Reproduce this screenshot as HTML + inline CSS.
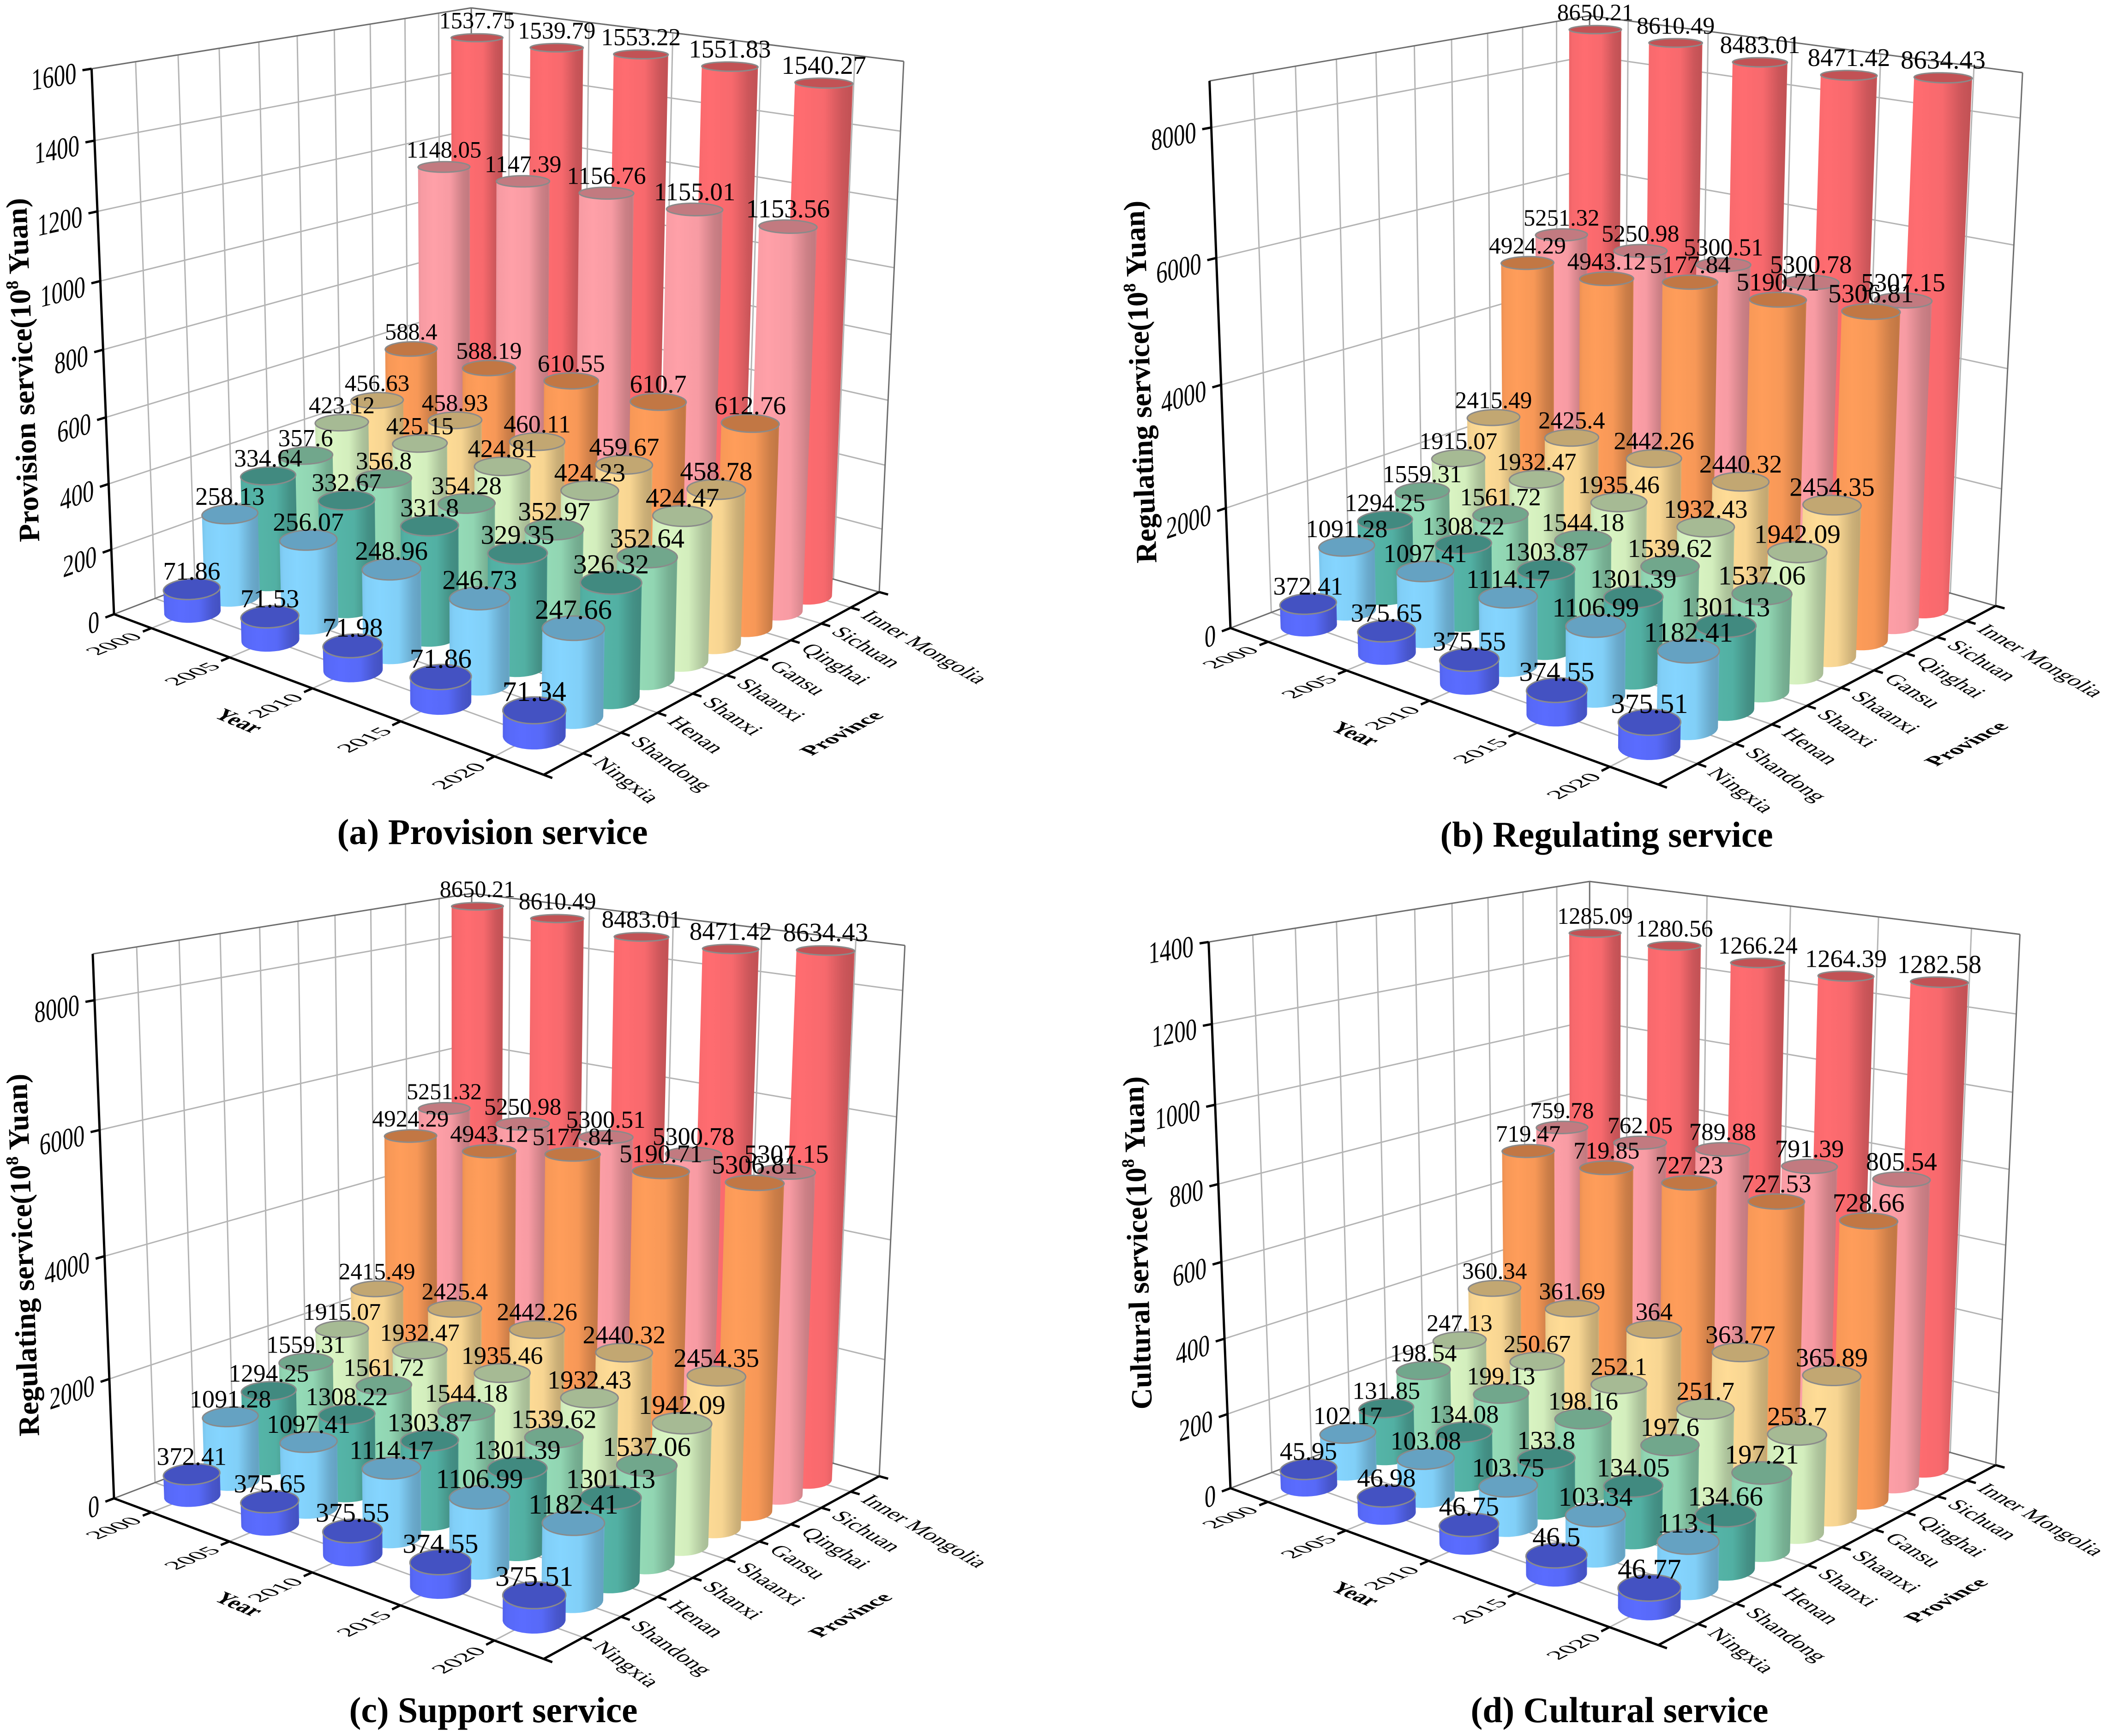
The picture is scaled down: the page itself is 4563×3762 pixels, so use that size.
<!DOCTYPE html>
<html lang="en">
<head>
<meta charset="utf-8">
<title>Ecosystem services by province and year</title>
<style>
html,body{margin:0;padding:0;background:#fff}
svg{display:block;position:absolute;left:0;top:0}
text{font-family:"Liberation Serif","Times New Roman",serif;fill:#000}
.title{font-weight:bold;font-size:78px;text-anchor:middle}
.ztitle{font-weight:bold;font-size:64px;text-anchor:middle}
.axt{font-weight:bold;font-size:48px;text-anchor:middle}
</style>
</head>
<body>
<svg id="figure" xmlns="http://www.w3.org/2000/svg" width="4563" height="3762" viewBox="0 0 4563 3762">
  <defs id="gradients"></defs>
  <rect x="0" y="0" width="4563" height="3762" fill="#fff"/>
  <g id="panel-a"></g>
  <g id="panel-b"></g>
  <g id="panel-c"></g>
  <g id="panel-d"></g>

  <text class="title" x="1067" y="1829" textLength="673" lengthAdjust="spacingAndGlyphs">(a) Provision service</text>
  <text class="title" x="3481" y="1835" textLength="721" lengthAdjust="spacingAndGlyphs">(b) Regulating service</text>
  <text class="title" x="1069" y="3732" textLength="625" lengthAdjust="spacingAndGlyphs">(c) Support service</text>
  <text class="title" x="3509" y="3732" textLength="645" lengthAdjust="spacingAndGlyphs">(d) Cultural service</text>

  <text class="ztitle" transform="translate(71,801) rotate(-92.2)">Provision service(10<tspan font-size="38" dy="-25">8</tspan><tspan dy="25"> Yuan)</tspan></text>
  <text class="ztitle" transform="translate(2492,827) rotate(-92)">Regulating service(10<tspan font-size="38" dy="-25">8</tspan><tspan dy="25"> Yuan)</tspan></text>
  <text class="ztitle" transform="translate(71,2719) rotate(-92)">Regulating service(10<tspan font-size="38" dy="-25">8</tspan><tspan dy="25"> Yuan)</tspan></text>
  <text class="ztitle" transform="translate(2486,2693) rotate(-91.5)">Cultural service(10<tspan font-size="38" dy="-25">8</tspan><tspan dy="25"> Yuan)</tspan></text>

  <text class="axt" transform="matrix(.92 .39 -.8 .6 505 1572)">Year</text>
  <text class="axt" transform="matrix(.92 .39 -.8 .6 2924 1600)">Year</text>
  <text class="axt" transform="matrix(.92 .39 -.8 .6 505 3486)">Year</text>
  <text class="axt" transform="matrix(.92 .39 -.8 .6 2924 3464)">Year</text>

  <text class="axt" transform="matrix(.88 -.48 .92 .39 1838 1595)">Province</text>
  <text class="axt" transform="matrix(.88 -.48 .92 .39 4275 1618)">Province</text>
  <text class="axt" transform="matrix(.88 -.48 .92 .39 1857 3506)">Province</text>
  <text class="axt" transform="matrix(.88 -.48 .92 .39 4231 3474)">Province</text>
</svg>
<script>
const years = ["2000", "2005", "2010", "2015", "2020"];
const provinces = ["Ningxia", "Shandong", "Henan", "Shanxi", "Shaanxi", "Gansu", "Qinghai", "Sichuan", "Inner Mongolia"];

const provisionService = [
  [71.86, 71.53, 71.98, 71.86, 71.34],
  [258.13, 256.07, 248.96, 246.73, 247.66],
  [334.64, 332.67, 331.8, 329.35, 326.32],
  [357.6, 356.8, 354.28, 352.97, 352.64],
  [423.12, 425.15, 424.81, 424.23, 424.47],
  [456.63, 458.93, 460.11, 459.67, 458.78],
  [588.4, 588.19, 610.55, 610.7, 612.76],
  [1148.05, 1147.39, 1156.76, 1155.01, 1153.56],
  [1537.75, 1539.79, 1553.22, 1551.83, 1540.27]
];
const regulatingService = [
  [372.41, 375.65, 375.55, 374.55, 375.51],
  [1091.28, 1097.41, 1114.17, 1106.99, 1182.41],
  [1294.25, 1308.22, 1303.87, 1301.39, 1301.13],
  [1559.31, 1561.72, 1544.18, 1539.62, 1537.06],
  [1915.07, 1932.47, 1935.46, 1932.43, 1942.09],
  [2415.49, 2425.4, 2442.26, 2440.32, 2454.35],
  [4924.29, 4943.12, 5177.84, 5190.71, 5306.81],
  [5251.32, 5250.98, 5300.51, 5300.78, 5307.15],
  [8650.21, 8610.49, 8483.01, 8471.42, 8634.43]
];
const supportService = [
  [372.41, 375.65, 375.55, 374.55, 375.51],
  [1091.28, 1097.41, 1114.17, 1106.99, 1182.41],
  [1294.25, 1308.22, 1303.87, 1301.39, 1301.13],
  [1559.31, 1561.72, 1544.18, 1539.62, 1537.06],
  [1915.07, 1932.47, 1935.46, 1932.43, 1942.09],
  [2415.49, 2425.4, 2442.26, 2440.32, 2454.35],
  [4924.29, 4943.12, 5177.84, 5190.71, 5306.81],
  [5251.32, 5250.98, 5300.51, 5300.78, 5307.15],
  [8650.21, 8610.49, 8483.01, 8471.42, 8634.43]
];
const culturalService = [
  [45.95, 46.98, 46.75, 46.5, 46.77],
  [102.17, 103.08, 103.75, 103.34, 113.1],
  [131.85, 134.08, 133.8, 134.05, 134.66],
  [198.54, 199.13, 198.16, 197.6, 197.21],
  [247.13, 250.67, 252.1, 251.7, 253.7],
  [360.34, 361.69, 364, 363.77, 365.89],
  [719.47, 719.85, 727.23, 727.53, 728.66],
  [759.78, 762.05, 789.88, 791.39, 805.54],
  [1285.09, 1280.56, 1266.24, 1264.39, 1282.58]
];
const provisionTicks = [0, 200, 400, 600, 800, 1000, 1200, 1400, 1600];
const regulatingTicks = [0, 2000, 4000, 6000, 8000];
const supportTicks = [0, 2000, 4000, 6000, 8000];
const culturalTicks = [0, 200, 400, 600, 800, 1000, 1200, 1400];
const provisionMax = 1600;
const regulatingMax = 8700;
const supportMax = 8700;
const culturalMax = 1400;

const SVGNS = "http://www.w3.org/2000/svg";
const sideColors = ["#5a6cff", "#85d5ff", "#55b5a8", "#95dcb8", "#daf5c3", "#ffdc96", "#ff9d5a", "#ffa0a8", "#ff6c70"];

function shade(hex, k) {
  const n = parseInt(hex.slice(1), 16);
  const c = [(n >> 16) & 255, (n >> 8) & 255, n & 255].map(v => Math.round(v * k));
  return "rgb(" + c.join(",") + ")";
}
function mk(tag, parent) {
  const el = document.createElementNS(SVGNS, tag);
  parent.appendChild(el);
  return el;
}
function setAll(el, attrs) {
  for (const k in attrs) el.setAttribute(k, attrs[k]);
}
function meet(a, b, c, d) {
  const d1x = b[0] - a[0], d1y = b[1] - a[1], d2x = d[0] - c[0], d2y = d[1] - c[1];
  const t = ((c[0] - a[0]) * d2y - (c[1] - a[1]) * d2x) / (d1x * d2y - d1y * d2x);
  return [a[0] + t * d1x, a[1] + t * d1y];
}
function unit(a, b) {
  const dx = b[0] - a[0], dy = b[1] - a[1], l = Math.hypot(dx, dy);
  return [dx / l, dy / l];
}
function solve3(m, r) {
  const a = m.map((row, i) => row.concat(r[i]));
  for (let i = 0; i < 3; i++) {
    let p = i;
    for (let k = i + 1; k < 3; k++) if (Math.abs(a[k][i]) > Math.abs(a[p][i])) p = k;
    const t = a[i]; a[i] = a[p]; a[p] = t;
    for (let k = 0; k < 3; k++) {
      if (k === i) continue;
      const f = a[k][i] / a[i][i];
      for (let c = i; c < 4; c++) a[k][c] -= f * a[i][c];
    }
  }
  return [a[0][3] / a[0][0], a[1][3] / a[1][1], a[2][3] / a[2][2]];
}
// Builds a projective camera from the box corners.
function camera(g) {
  const O = g.O, A = g.A, B = g.B, Ot = g.Ot, Bt = g.Bt, Ct = g.Ct;
  const vpV = meet(Ot, Ct, A, B), vpU = meet(Ct, Bt, O, A);
  const C = meet(O, vpV, B, vpU);
  const dx1 = A[0] - B[0], dx2 = C[0] - B[0], sx = O[0] - A[0] + B[0] - C[0];
  const dy1 = A[1] - B[1], dy2 = C[1] - B[1], sy = O[1] - A[1] + B[1] - C[1];
  const den = dx1 * dy2 - dx2 * dy1;
  const gg = (sx * dy2 - dx2 * sy) / den, h = (dx1 * sy - sx * dy1) / den;
  const a = A[0] - O[0] + gg * A[0], b = C[0] - O[0] + h * C[0], c = O[0];
  const d = A[1] - O[1] + gg * A[1], e = C[1] - O[1] + h * C[1], f = O[1];
  const rows = [], rhs = [];
  [[Ot, 0, 0], [Ct, 0, 1], [Bt, 1, 1]].forEach(t => {
    const pt = t[0], u = t[1], v = t[2];
    const H1 = a * u + b * v + c, H2 = d * u + e * v + f, H3 = gg * u + h * v + 1;
    rows.push([1, 0, -pt[0]]); rhs.push(pt[0] * H3 - H1);
    rows.push([0, 1, -pt[1]]); rhs.push(pt[1] * H3 - H2);
  });
  const ata = [[0, 0, 0], [0, 0, 0], [0, 0, 0]], atb = [0, 0, 0];
  rows.forEach((r, i) => {
    for (let m = 0; m < 3; m++) {
      atb[m] += r[m] * rhs[i];
      for (let n = 0; n < 3; n++) ata[m][n] += r[m] * r[n];
    }
  });
  const s = solve3(ata, atb), p = s[0], q = s[1], r = s[2];
  return function (u, v, w) {
    const z = gg * u + h * v + 1 + r * w;
    return [(a * u + b * v + c + p * w) / z, (d * u + e * v + f + q * w) / z];
  };
}
function hull(pts) {
  const s = pts.slice().sort((a, b) => a[0] - b[0] || a[1] - b[1]);
  const cross = (o, a, b) => (a[0] - o[0]) * (b[1] - o[1]) - (a[1] - o[1]) * (b[0] - o[0]);
  const lo = [], up = [];
  s.forEach(p => {
    while (lo.length > 1 && cross(lo[lo.length - 2], lo[lo.length - 1], p) <= 0) lo.pop();
    lo.push(p);
  });
  s.slice().reverse().forEach(p => {
    while (up.length > 1 && cross(up[up.length - 2], up[up.length - 1], p) <= 0) up.pop();
    up.push(p);
  });
  return lo.slice(0, -1).concat(up.slice(0, -1));
}
function pathOf(pts) {
  return "M" + pts.map(p => p[0].toFixed(1) + " " + p[1].toFixed(1)).join("L") + "Z";
}
function line(parent, a, b, color, width) {
  const el = mk("line", parent);
  setAll(el, {x1: a[0].toFixed(1), y1: a[1].toFixed(1), x2: b[0].toFixed(1), y2: b[1].toFixed(1), stroke: color, "stroke-width": width});
  return el;
}

// Side gradients, one per province.
const defs = document.getElementById("gradients");
sideColors.forEach((col, j) => {
  const gr = mk("linearGradient", defs);
  setAll(gr, {id: "side" + j, x1: 0, y1: 0, x2: 1, y2: 0});
  [[0, .92], [.07, .97], [.3, 1], [.62, .97], [.86, .8], [.97, .76], [1, .82]].forEach(s => {
    const st = mk("stop", gr);
    setAll(st, {offset: s[0], "stop-color": shade(col, s[1])});
  });
});

function drawPanel(cfg) {
  const root = document.getElementById(cfg.id);
  const P = camera(cfg.box);
  const uOf = i => (i + .5) / years.length;
  const vOf = j => (j + 1) / (provinces.length + 1);
  const wOf = val => val / cfg.max;

  // Grid
  const grid = mk("g", root);
  
  
  const GC = "#b4b4b4", GW = 3;
  years.forEach((y, i) => {
    const u = uOf(i);
    line(grid, P(u, 0, 0), P(u, 1, 0), GC, GW);
    line(grid, P(u, 1, 0), P(u, 1, 1), GC, GW);
  });
  provinces.forEach((n, j) => {
    const v = vOf(j);
    line(grid, P(0, v, 0), P(1, v, 0), GC, GW);
    line(grid, P(0, v, 0), P(0, v, 1), GC, GW);
  });
  cfg.ticks.forEach(t => {
    const w = wOf(t);
    if (t === 0) return;
    line(grid, P(0, 0, w), P(0, 1, w), GC, GW);
    line(grid, P(0, 1, w), P(1, 1, w), GC, GW);
  });
  const BC = "#6e6e6e";
  [[0,0,1, 0,1,1], [0,1,1, 1,1,1], [1,1,1, 1,1,0], [0,1,1, 0,1,0], [0,1,0, 1,1,0], [0,0,0, 0,1,0]].forEach(s => {
    line(grid, P(s[0], s[1], s[2]), P(s[3], s[4], s[5]), BC, 3);
  });

  // Axes and ticks
  const axes = mk("g", root);
  
  
  line(axes, P(0, 0, 0), P(0, 0, 1), "#000", 5);
  line(axes, P(0, 0, 0), P(1, 0, 0), "#000", 5);
  line(axes, P(1, 0, 0), P(1, 1, 0), "#000", 5);

  const TL = 20;
  cfg.ticks.forEach(t => {
    const w = wOf(t), a = P(0, 0, w), dir = unit(a, P(0, 1, w));
    const end = [a[0] - dir[0] * TL, a[1] - dir[1] * TL];
    line(axes, a, end, "#000", 5);
    const xs = .74, slope = dir[1] / dir[0];
    const tx = end[0] - 13, ty = end[1] + 28;
    const lab = mk("text", axes);
    setAll(lab, {transform: "matrix(" + xs + " " + (slope * xs).toFixed(3) + " 0 1 " + tx.toFixed(1) + " " + ty.toFixed(1) + ")", "text-anchor": "end", "font-size": 66});
    
    
    lab.textContent = String(t);
  });
  years.forEach((y, i) => {
    const u = uOf(i), a = P(u, 0, 0), dir = unit(a, P(u, 1, 0));
    const yb = unit(P(Math.max(0, u - .05), 0, 0), P(Math.min(1, u + .05), 0, 0));
    const end = [a[0] - dir[0] * TL, a[1] - dir[1] * TL];
    line(axes, a, end, "#000", 5);
    const f = 54, gap = 16, yoff = 18, ys = .88;
    const tx = end[0] - dir[0] * gap + yb[0] * yoff, ty = end[1] - dir[1] * gap + yb[1] * yoff;
    const lab = mk("text", axes);
    setAll(lab, {transform: "matrix(" + [dir[0], dir[1], yb[0] * ys, yb[1] * ys, tx, ty].map(n => n.toFixed(3)).join(" ") + ")", "text-anchor": "end", "font-size": f});
    
    
    lab.textContent = y;
  });
  [0, 1].forEach(v => {
    const a = P(1, v, 0), dir = unit(P(0, v, 0), a);
    line(axes, a, [a[0] + dir[0] * TL, a[1] + dir[1] * TL], "#000", 5);
  });
  provinces.forEach((n, j) => {
    const v = vOf(j), a = P(1, v, 0), dir = unit(P(.9, v, 0), a);
    const along = unit(P(1, Math.max(0, v - .05), 0), P(1, Math.min(1, v + .05), 0));
    const end = [a[0] + dir[0] * TL, a[1] + dir[1] * TL];
    line(axes, a, end, "#000", 5);
    const f = 47, ys = 1.02;
    const slope = 2 * dir[1] / dir[0], len = Math.hypot(1, slope);
    const xb = [1 / len, slope / len], yb = [-along[0] * ys, -along[1] * ys];
    const tx = end[0], ty = end[1] + 14;
    const lab = mk("text", axes);
    setAll(lab, {transform: "matrix(" + [xb[0], xb[1], yb[0], yb[1], tx, ty].map(k => k.toFixed(3)).join(" ") + ")", "text-anchor": "start", "font-size": f});
    
    
    lab.textContent = n;
  });

  // Bars, back to front
  const bars = mk("g", root);
  
  
  const labels = mk("g", root);
  
  
  const RU = .05, RV = .052, N = 40;
  for (let j = provinces.length - 1; j >= 0; j--) {
    for (let i = 0; i < years.length; i++) {
      const u = uOf(i), v = vOf(j), val = cfg.values[j][i], w = wOf(val);
      const topPts = [], botPts = [];
      for (let k = 0; k < N; k++) {
        const t = k / N * Math.PI * 2;
        const cu = u + RU * Math.cos(t), cv = v + RV * Math.sin(t);
        topPts.push(P(cu, cv, w));
        botPts.push(P(cu, cv, 0));
      }
      const bar = mk("g", bars);
      
      
      const side = mk("path", bar);
      setAll(side, {d: pathOf(hull(topPts.concat(botPts))), fill: "url(#side" + j + ")"});
      
      
      const top = mk("path", bar);
      setAll(top, {d: pathOf(topPts), fill: shade(sideColors[j], .76), stroke: "#8a8a8a", "stroke-width": 3});
      
      

      const xs = topPts.map(p => p[0]);
      const minX = Math.min.apply(null, xs), maxX = Math.max.apply(null, xs);
      const c = P(u, v, w);
      const lab = mk("text", labels);
      setAll(lab, {x: ((minX + maxX) / 2).toFixed(1), y: (c[1] - 20).toFixed(1), "text-anchor": "middle", "font-size": (.45 * (maxX - minX)).toFixed(1)});
      
      
      lab.textContent = String(val);
    }
  }
}

drawPanel({id: "panel-a", values: provisionService, ticks: provisionTicks, max: provisionMax,
  box: {O: [247, 1331], A: [1178, 1679], B: [1905, 1283], Ot: [196, 150], Bt: [1956, 132], Ct: [1025, 17]}});
drawPanel({id: "panel-b", values: regulatingService, ticks: regulatingTicks, max: regulatingMax,
  box: {O: [2666, 1361], A: [3593, 1700], B: [4324, 1313], Ot: [2617, 177], Bt: [4379, 156], Ct: [3450, 34]}});
drawPanel({id: "panel-c", values: supportService, ticks: supportTicks, max: supportMax,
  box: {O: [247, 3247], A: [1178, 3595], B: [1905, 3199], Ot: [199, 2068], Bt: [1959, 2048], Ct: [1025, 1936]}});
drawPanel({id: "panel-d", values: culturalService, ticks: culturalTicks, max: culturalMax,
  box: {O: [2666, 3225], A: [3593, 3565], B: [4324, 3175], Ot: [2617, 2042], Bt: [4375, 2024], Ct: [3447, 1910]}});
</script>
</body>
</html>
